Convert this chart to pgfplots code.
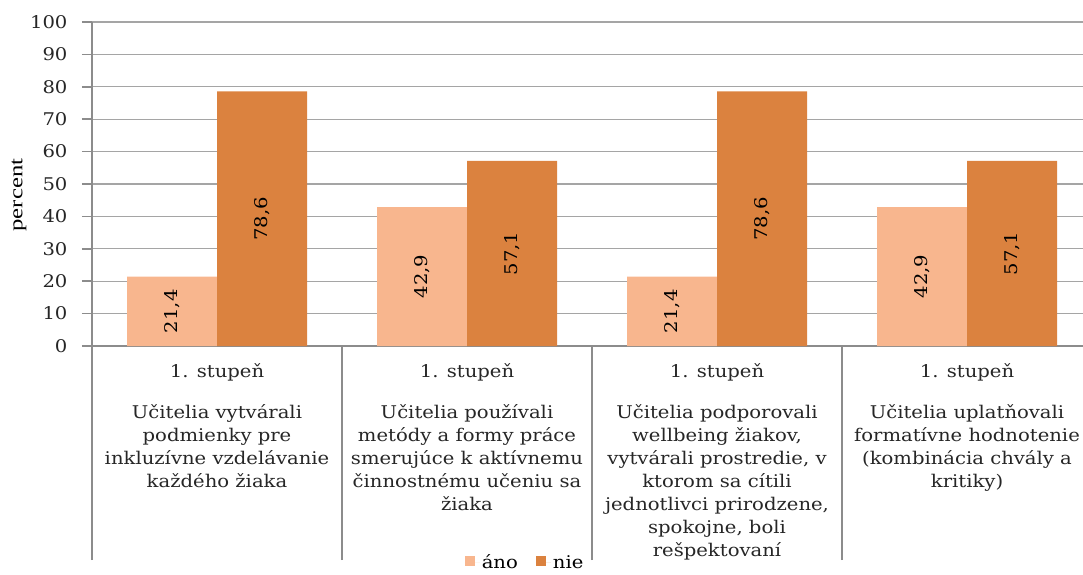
\documentclass[border=0pt]{standalone}
\usepackage{pgfplots}
\pgfplotsset{compat=1.18}
\usepackage{fontspec}
\setmainfont{DejaVu Serif}[FakeStretch=1.12]
\newfontfamily\timesfont{Liberation Serif}[FakeStretch=1.3]
\definecolor{ano}{RGB}{248,182,142}
\definecolor{nie}{RGB}{219,130,63}
\definecolor{gridc}{RGB}{165,165,165}
\definecolor{axc}{RGB}{140,140,140}
\newcommand{\cf}{\fontsize{17.5}{23}\selectfont}
\newcommand{\pf}{\timesfont\fontsize{19}{21}\selectfont}
\begin{document}
\begin{tikzpicture}
\useasboundingbox (0,0) rectangle (1083pt,574pt);
\begin{axis}[
  scale only axis, width=991pt, height=324pt,
  at={(92pt,228pt)}, anchor=south west,
  xmin=-0.5, xmax=3.464, ymin=0, ymax=100,
  ybar=0pt, bar width=0.36,
  axis x line*=bottom, axis y line*=left,
  axis line style={axc, line width=1.5pt},
  ytick={0,10,...,100},
  ymajorgrids, grid style={gridc, line width=1.3pt},
  tick align=outside, major tick length=10pt,
  ytick style={axc, line width=1.5pt},
  xtick={0,1,2,3}, xtick style={draw=none},
  xticklabels={
    {1. stupeň\\[18pt]Učitelia vytvárali\\podmienky pre\\inkluzívne vzdelávanie\\každého žiaka},
    {1. stupeň\\[18pt]Učitelia používali\\metódy a formy práce\\smerujúce k aktívnemu\\činnostnému učeniu sa\\žiaka},
    {1. stupeň\\[18pt]Učitelia podporovali\\wellbeing žiakov,\\vytvárali prostredie, v\\ktorom sa cítili\\jednotlivci prirodzene,\\spokojne, boli\\rešpektovaní},
    {1. stupeň\\[18pt]Učitelia uplatňovali\\formatívne hodnotenie\\(kombinácia chvály a\\kritiky)}},
  xticklabel style={align=center, anchor=north, font=\cf, text=black!85, yshift=-4pt},
  yticklabel style={font=\cf, text=black!85, xshift=-11pt},
  extra x ticks={-0.5,0.5,1.5,2.5}, extra x tick labels={},
  extra x tick style={major tick length=214pt, xtick style={draw=axc, line width=1.5pt}, grid=none},
  /pgf/number format/assume math mode=true,
  ylabel={percent},
  label style={font=\pf},
  ylabel style={at={(axis description cs:0,0.466)}, anchor=center, yshift=73pt},
  visualization depends on={y/2 \as \halfy},
  nodes near coords={\pgfmathprintnumber[use comma, fixed, fixed zerofill, precision=1]{\pgfplotspointmeta}},
  every node near coord/.append style={shift={(axis direction cs:0,-\halfy)}, rotate=90, anchor=center, font=\cf, text=black},
  legend style={at={(0.437,-0.668)}, anchor=center, draw=none, fill=none, legend columns=2, font=\cf,
    /tikz/every even column/.append style={column sep=16pt}},
  legend image code/.code={\fill[#1] (0pt,-4pt) rectangle (10pt,6pt); \path (0pt,0pt) -- (15pt,0pt);},
]
\addplot[fill=ano, draw=none] coordinates {(0,21.4) (1,42.9) (2,21.4) (3,42.9)};
\addplot[fill=nie, draw=none] coordinates {(0,78.6) (1,57.1) (2,78.6) (3,57.1)};
\legend{áno, nie}
\end{axis}
\end{tikzpicture}
\end{document}
